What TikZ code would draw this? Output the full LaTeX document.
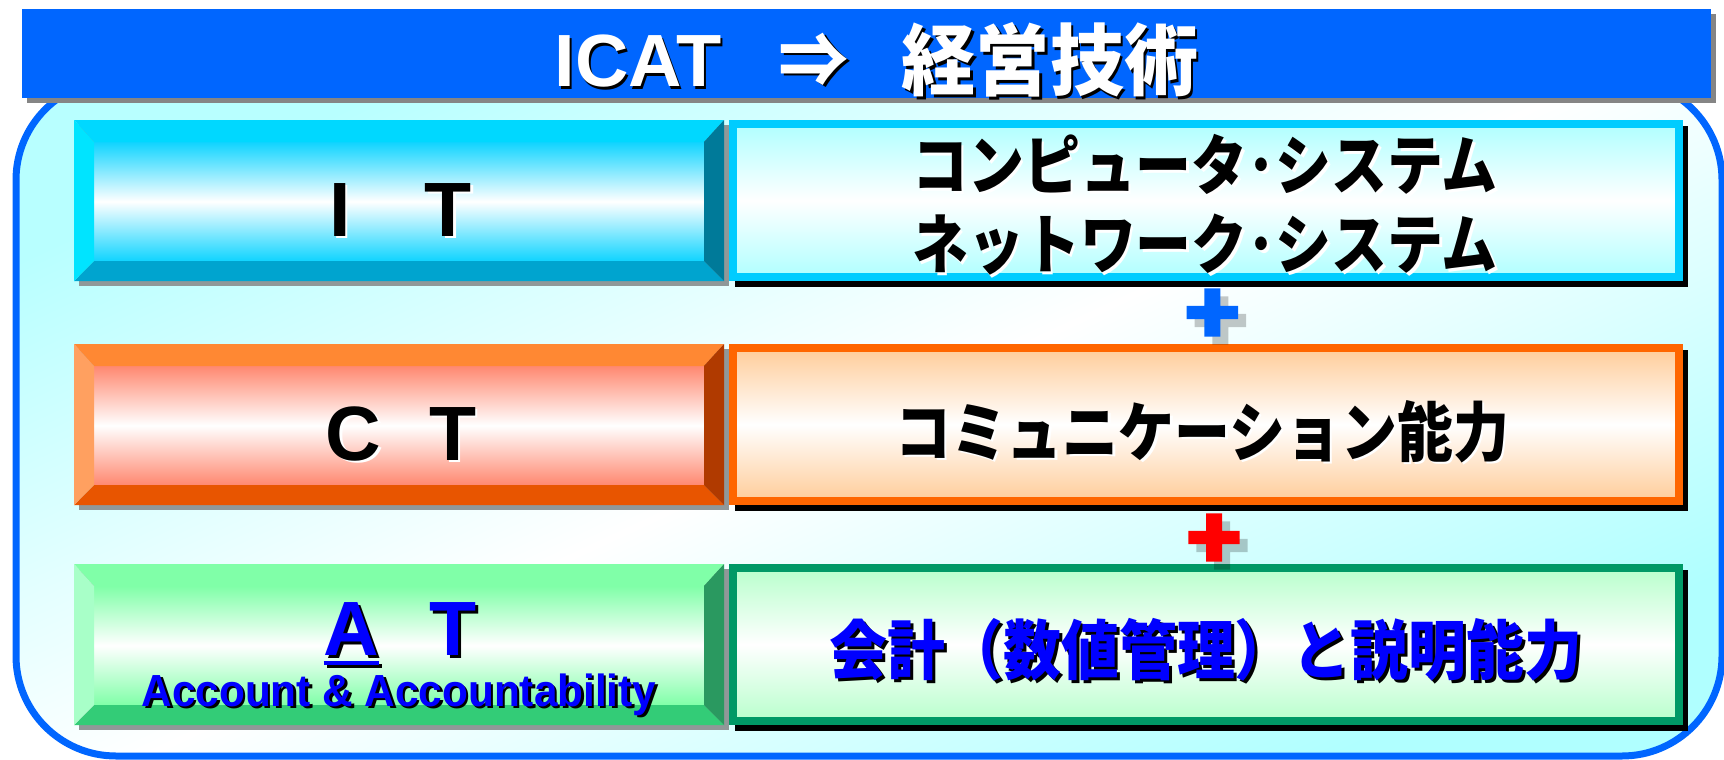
\documentclass[tikz,border=0pt]{standalone}
\usepackage{fontspec}
\newfontfamily\jpn{Noto Sans CJK JP}[FakeStretch=0.86]
\newfontfamily\jpw{Noto Sans CJK JP}[FakeStretch=0.89]
\newfontfamily\jpt{Noto Sans CJK JP}[FakeStretch=0.95]
\newfontfamily\lat{Liberation Sans}
\newfontfamily\latn{Liberation Sans}[FakeStretch=0.94]
\definecolor{titleblue}{HTML}{0066FF}
\definecolor{frameblue}{HTML}{0066FF}
\definecolor{bgA}{HTML}{B8FFFF}
\definecolor{bgB}{HTML}{B0FFFF}
\definecolor{barshadow}{HTML}{858585}
\definecolor{lshadow}{HTML}{909898}
% IT left
\definecolor{itTop}{HTML}{00D8FF}
\definecolor{itLeft}{HTML}{00E4FF}
\definecolor{itBot}{HTML}{00A4CF}
\definecolor{itRight}{HTML}{007A99}
\definecolor{itIn}{HTML}{10D4FF}
% CT left
\definecolor{ctTop}{HTML}{FF8833}
\definecolor{ctLeft}{HTML}{FFA060}
\definecolor{ctBot}{HTML}{E85500}
\definecolor{ctRight}{HTML}{B03A00}
\definecolor{ctIn}{HTML}{FF8870}
% AT left
\definecolor{atTop}{HTML}{80FFA8}
\definecolor{atLeft}{HTML}{A8FFC8}
\definecolor{atBot}{HTML}{33CC77}
\definecolor{atRight}{HTML}{2A9960}
\definecolor{atIn}{HTML}{80FFA8}
% right boxes
\definecolor{itBorder}{HTML}{00CCFF}
\definecolor{itFill}{HTML}{B0FFFF}
\definecolor{ctBorder}{HTML}{FF6600}
\definecolor{ctFill}{HTML}{FFCC99}
\definecolor{atBorder}{HTML}{009966}
\definecolor{atFill}{HTML}{B8FFCC}
\definecolor{plusBlue}{HTML}{0066FF}
\definecolor{plusRed}{HTML}{FF0000}
\definecolor{atText}{HTML}{0000FF}

\tikzset{
  txt/.style={inner sep=0pt, outer sep=0pt},
  titlefont/.style={font=\lat\bfseries\fontsize{74}{80}\selectfont},
  arrowfont/.style={font=\jpt\bfseries\fontsize{74}{80}\selectfont},
  kanjititle/.style={font=\jpt\bfseries\fontsize{78}{84}\selectfont},
  leftfont/.style={font=\lat\bfseries\fontsize{77}{80}\selectfont},
  smallfont/.style={font=\latn\bfseries\fontsize{45}{48}\selectfont},
  rightfont/.style={font=\jpn\bfseries\fontsize{65}{79}\selectfont, align=center},
  rightwide/.style={font=\jpw\bfseries\fontsize{65}{79}\selectfont, align=center},
}
% shadowed text: name, position, style, shadow colour, text colour, offset, text
\newcommand\shtext[7]{%
  \node[txt,#3,text=#4,xshift=#6pt,yshift=-#6pt] (#1-sh) at #2 {#7};
  \node[txt,#3,text=#5] (#1) at #2 {#7};}
% bevelled button: y1, y2, top, left, bottom, right, inner
\newcommand\bevelbox[7]{%
  \fill[lshadow] (79,{#1+5}) rectangle (729,{#2+5});
  \shade[top color=#7,bottom color=#7,middle color=white] (94,{#1+22}) rectangle (704,{#2-20});
  \fill[#3] (74,#1) -- (724,#1) -- (704,{#1+22}) -- (94,{#1+22}) -- cycle;
  \fill[#5] (74,#2) -- (724,#2) -- (704,{#2-20}) -- (94,{#2-20}) -- cycle;
  \fill[#4] (74,#1) -- (94,{#1+22}) -- (94,{#2-20}) -- (74,#2) -- cycle;
  \fill[#6] (724,#1) -- (704,{#1+22}) -- (704,{#2-20}) -- (724,#2) -- cycle;}
% framed box: y1, y2, border, fill
\newcommand\rbox[4]{%
  \fill[black] (735,{#1+6}) rectangle (1688,{#2+6});
  \draw[line width=8pt, draw=#3, top color=#4, bottom color=#4, middle color=white] (733,{#1+4}) rectangle (1679,{#2-4});}
% plus sign: cx, cy, colour
\newcommand\plussign[3]{%
  \fill[black,opacity=0.22] ({#1-8+8},{#2-24.2+8}) rectangle ({#1+8+8},{#2+24.2+8})
                            ({#1-25.7+8},{#2-6.7+8}) rectangle ({#1+25.7+8},{#2+6.7+8});
  \fill[#3] ({#1-8},{#2-24.2}) rectangle ({#1+8},{#2+24.2})
            ({#1-25.7},{#2-6.7}) rectangle ({#1+25.7},{#2+6.7});}
\newcommand\ulA{\setbox0\hbox{A}\rlap{\rule[-9.5pt]{\wd0}{4pt}}A}

\begin{document}
\begin{tikzpicture}[x=1pt,y=-1pt]
\useasboundingbox (0,0) rectangle (1724,760);
% outer rounded frame
\draw[line width=7pt, draw=frameblue, rounded corners=100pt,
      top color=bgA, bottom color=bgB, middle color=white, shading angle=25]
  (16,80) rectangle (1722,756);
% title bar
\fill[barshadow] (27,14) rectangle (1716,103);
\fill[titleblue] (22,9) rectangle (1711,98);
\shtext{tICAT}{(638,87)}{titlefont,anchor=base}{black}{white}{2.5}{ICAT}
\shtext{tArrow}{(814,60)}{arrowfont}{black}{white}{2.5}{⇒}
\shtext{tKanji}{(1050,60)}{kanjititle}{black}{white}{2.5}{経営技術}

% left bevel boxes
\bevelbox{120}{281}{itTop}{itLeft}{itBot}{itRight}{itIn}
\bevelbox{344}{505}{ctTop}{ctLeft}{ctBot}{ctRight}{ctIn}
\bevelbox{564}{725}{atTop}{atLeft}{atBot}{atRight}{atIn}

% right framed boxes
\rbox{120}{281}{itBorder}{itFill}
\rbox{344}{505}{ctBorder}{ctFill}
\rbox{564}{725}{atBorder}{atFill}

% left labels
\shtext{lIT}{(400.5,236)}{leftfont,anchor=base}{white}{black}{2.5}{I\hspace{74pt}T}
\shtext{lCT}{(401,460)}{leftfont,anchor=base}{white}{black}{2.5}{C\hspace{48pt}T}
\shtext{lAT}{(400,655)}{leftfont,anchor=base}{black}{atText}{3}{\ulA\hspace{50pt}T}
\shtext{lAcc}{(399,706)}{smallfont,anchor=base}{black}{atText}{2.5}{Account \& Accountability}

% right labels
\shtext{rIT}{(1205,205)}{rightfont}{white}{black}{2.5}{コンピュータ･システム\\ネットワーク･システム}
\shtext{rCT}{(1202,431.5)}{rightfont}{white}{black}{2.5}{コミュニケーション能力}
\shtext{rAT}{(1206,650)}{rightwide}{black}{atText}{3}{会計（数値管理）と説明能力}

% plus signs
\plussign{1212.3}{312.5}{plusBlue}
\plussign{1214}{537.5}{plusRed}
\end{tikzpicture}
\end{document}
